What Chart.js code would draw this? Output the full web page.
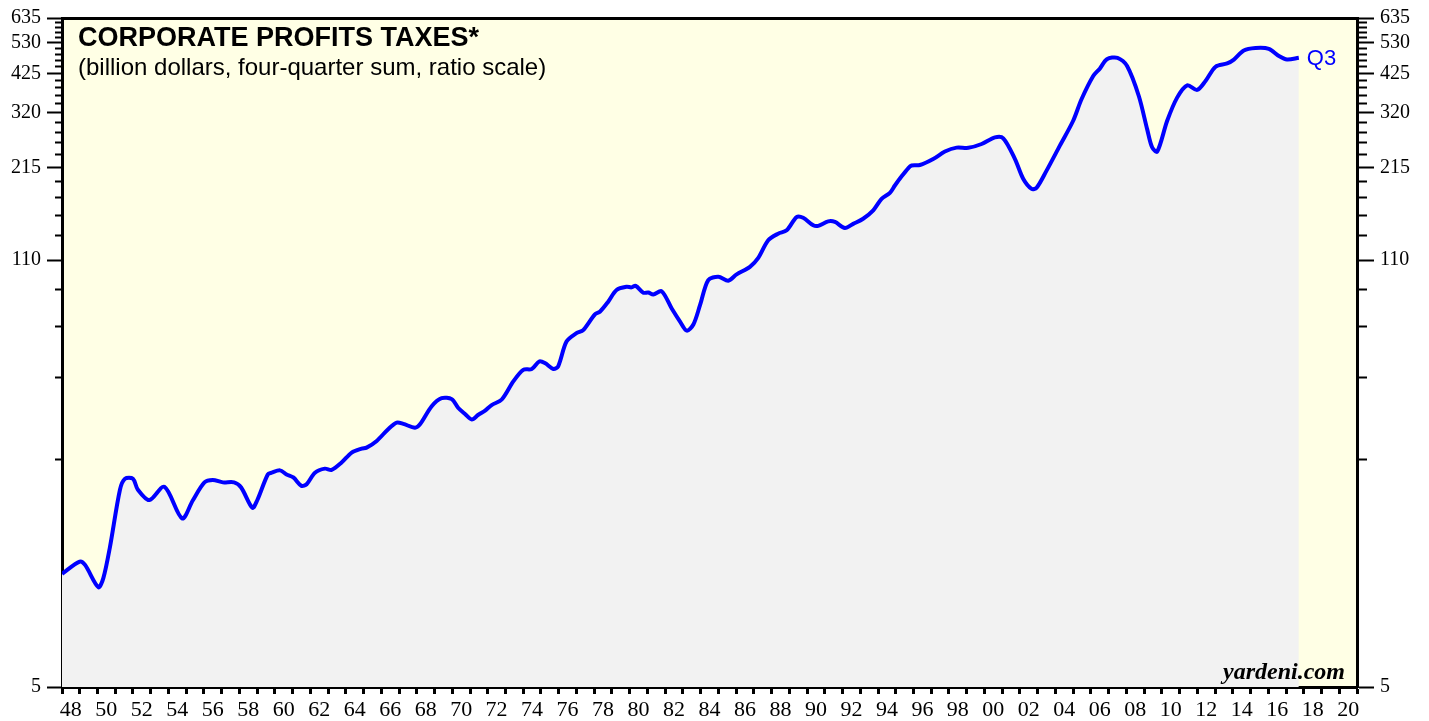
<!DOCTYPE html>
<html>
<head>
<meta charset="utf-8">
<script src="https://cdn.jsdelivr.net/npm/chart.js@4.4.1/dist/chart.umd.min.js"></script>
<style>
  html, body { margin: 0; padding: 0; background: #fff; }
  #wrap { position: relative; width: 1429px; height: 721px; }
  #wrap canvas { position: absolute; left: 0; top: 0; }
  .txt { position: absolute; white-space: nowrap; line-height: 1; color: #000; }
  #title { left: 78px; top: 22px; font: bold 27px "Liberation Sans", Arial, sans-serif; }
  #subtitle { left: 78px; top: 53px; font: 24px "Liberation Sans", Arial, sans-serif; }
  #source { right: 84px; top: 658px; font: bold italic 24px "Liberation Serif", "Times New Roman", serif; }
</style>
</head>
<body>
<div id="wrap">
  <canvas id="chart" width="1429" height="721"></canvas>
  <div class="txt" id="title">CORPORATE PROFITS TAXES*</div>
  <div class="txt" id="subtitle">(billion dollars, four-quarter sum, ratio scale)</div>
  <div class="txt" id="source">yardeni.com</div>
</div>
<script>
// quarter position (decimal year) and four-quarter sum, billions of dollars
const quarters = [
  1948.0, 1949.0, 1949.3, 1950.05, 1950.33, 1950.7, 1951.27, 1951.55, 1952.0, 1952.27,
  1952.93, 1953.77, 1954.77, 1955.37, 1956.03, 1956.5, 1957.07, 1957.7, 1958.1, 1958.73,
  1959.0, 1959.6, 1959.82, 1960.29, 1960.66, 1961.04, 1961.5, 1961.79, 1962.26,
  1962.82, 1963.2, 1963.76, 1964.33, 1964.89, 1965.17, 1965.74, 1966.4, 1966.87, 1967.24,
  1967.9, 1968.18, 1968.84, 1969.4, 1969.97, 1970.34, 1970.72, 1971.1, 1971.47, 1971.85,
  1972.22, 1972.79, 1973.44, 1974.0, 1974.48, 1974.9, 1975.22, 1975.7, 1975.97, 1976.44,
  1977.0, 1977.38, 1978.04, 1978.32, 1978.79, 1979.26, 1979.83, 1980.1, 1980.34, 1980.77,
  1981.05, 1981.33, 1981.8, 1982.37, 1982.84, 1983.22, 1983.59, 1983.97, 1984.43, 1985.0,
  1985.56, 1986.03, 1986.78, 1987.25, 1987.81, 1988.37, 1988.85, 1989.41, 1989.78, 1990.35,
  1990.63, 1991.19, 1991.57, 1992.13, 1992.6, 1993.16, 1993.73, 1994.2, 1994.67, 1994.95,
  1995.33, 1995.7, 1995.89, 1996.36, 1997.11, 1997.77, 1998.43, 1999.09, 1999.84, 2000.59,
  2001.06, 2001.72, 2002.19, 2002.66, 2002.94, 2003.5, 2004.25, 2005.0, 2005.47, 2006.13,
  2006.5, 2006.9, 2007.5, 2008.04, 2008.7, 2009.17, 2009.45, 2009.74, 2010.3, 2010.86,
  2011.43, 2011.99, 2012.46, 2013.03, 2013.68, 2014.06, 2014.62, 2015.28, 2016.03, 2016.6,
  2017.06, 2017.72
];
const taxes = [
  11.35, 12.4, 12.1, 10.3, 11.0, 13.75, 20.9, 22.6, 22.6, 20.9,
  19.35, 21.3, 16.95, 19.3, 22.0, 22.4, 22.0, 22.0, 21.2, 18.3,
  19.3, 23.3, 23.6, 24.0, 23.3, 22.8, 21.45, 21.7, 23.6,
  24.3, 24.1, 25.4, 27.3, 28.1, 28.3, 29.7, 32.4, 33.9, 33.6,
  32.7, 33.5, 38.2, 40.5, 40.2, 37.7, 36.1, 34.7, 35.9, 37.0,
  38.5, 40.1, 45.7, 49.7, 50.0, 52.8, 52.2, 50.0, 51.0, 61.0,
  64.8, 66.3, 74.3, 75.7, 81.4, 88.6, 90.7, 90.3, 91.3, 86.9,
  87.0, 85.8, 87.8, 77.5, 70.5, 66.0, 69.0, 79.5, 95.2, 97.5,
  94.8, 99.2, 104.8, 111.8, 127.0, 133.2, 136.5, 150.2, 149.5, 141.5,
  141.0, 145.6, 145.0, 138.8, 143.0, 148.4, 157.7, 171.4, 179.0, 188.8,
  201.8, 213.9, 218.2, 219.0, 228.7, 241.4, 248.4, 248.0, 255.0, 267.5,
  265.8, 228.7, 198.0, 184.3, 185.8, 210.3, 252.0, 301.7, 352.5, 417.0,
  440.0, 471.0, 476.0, 448.5, 361.0, 284.0, 249.0, 241.4, 301.7, 356.8,
  390.0, 377.3, 402.5, 446.3, 457.0, 470.0, 502.0, 511.0, 508.0, 482.0,
  470.0, 476.0
];

const firstYear = 1948;
const lastYear = 2021;
const yearTicks = [];
for (let y = firstYear; y <= lastYear; y++) yearTicks.push(y);

// ratio scale: labels every 105, minor ticks every 21
const valueLabels = [5, 110, 215, 320, 425, 530, 635];
const valueTicks = [];
for (let v = 5; v <= 635; v += 21) valueTicks.push(v);

const yearLabel = (v) => (v % 2 === 0 && v < lastYear) ? String(v % 100).padStart(2, '0') : '';
const valueLabel = (v) => valueLabels.includes(v) ? String(v) : '';

const plotBackground = {
  id: 'plotBackground',
  beforeDraw(chart) {
    const { ctx, chartArea: a } = chart;
    ctx.save();
    ctx.fillStyle = '#FFFFE5';
    ctx.fillRect(a.left, a.top, a.right - a.left, a.bottom - a.top);
    ctx.restore();
  },
};

const lastQuarterLabel = {
  id: 'lastQuarterLabel',
  afterDatasetsDraw(chart) {
    const pts = chart.getDatasetMeta(0).data;
    const p = pts[pts.length - 1];
    const ctx = chart.ctx;
    ctx.save();
    ctx.font = '22px "Liberation Sans", Arial, sans-serif';
    ctx.fillStyle = '#0000FF';
    ctx.textBaseline = 'middle';
    ctx.fillText('Q3', p.x + 8, p.y + 1);
    ctx.restore();
  },
};

const serif = (size) => ({ family: '"Liberation Serif", "Times New Roman", serif', size });
const yearWidth = (1357 - 62) / (lastYear - firstYear);

function valueAxis(position, width, tickLength, minorDash) {
  return {
    type: 'logarithmic',
    position,
    min: 5,
    max: 635,
    bounds: 'data',
    z: 1,
    afterBuildTicks: (s) => { s.ticks = valueTicks.map(v => ({ value: v })); },
    afterFit: (s) => { s.width = width; },
    ticks: { autoSkip: false, callback: valueLabel, font: serif(20), color: '#000', padding: 6 },
    grid: {
      display: true, drawOnChartArea: false, drawTicks: true,
      tickLength, tickWidth: 2, tickColor: '#000',
      tickBorderDash: (ctx) => valueLabels.includes(ctx.tick.value) ? [] : minorDash,
    },
    border: { display: true, color: '#000', width: 3 },
  };
}

new Chart(document.getElementById('chart'), {
  type: 'line',
  data: {
    datasets: [{
      data: quarters.map((x, i) => ({ x, y: taxes[i] })),
      borderColor: '#0000FF',
      borderWidth: 4,
      backgroundColor: '#F2F2F2',
      fill: 'start',
      pointRadius: 0,
      tension: 0.3,
      xAxisID: 'x',
      yAxisID: 'y',
    }],
  },
  options: {
    responsive: false,
    animation: false,
    layout: { padding: 0 },
    plugins: { legend: { display: false }, tooltip: { enabled: false } },
    scales: {
      x: {
        type: 'linear',
        position: 'bottom',
        min: firstYear,
        max: lastYear,
        bounds: 'data',
        z: 1,
        afterBuildTicks: (s) => { s.ticks = yearTicks.map(v => ({ value: v })); },
        afterFit: (s) => { s.height = 34; },
        ticks: {
          autoSkip: false, maxRotation: 0, minRotation: 0,
          callback: yearLabel, labelOffset: yearWidth / 2, padding: 3,
          font: serif(22), color: '#000',
        },
        grid: { display: true, drawOnChartArea: false, drawTicks: true, tickLength: 7, tickWidth: 3, tickColor: '#000' },
        border: { display: true, color: '#000', width: 3 },
      },
      xTop: {
        type: 'linear',
        position: 'top',
        min: firstYear,
        max: lastYear,
        bounds: 'data',
        z: 1,
        afterFit: (s) => { s.height = 16; },
        ticks: { display: false },
        grid: { display: false, drawTicks: false },
        border: { display: true, color: '#000', width: 3 },
      },
      y: valueAxis('left', 62, 15, [0, 8, 7, 0]),
      yRight: valueAxis('right', 72, 17, [8, 100]),
    },
  },
  plugins: [plotBackground, lastQuarterLabel],
});
</script>
</body>
</html>
